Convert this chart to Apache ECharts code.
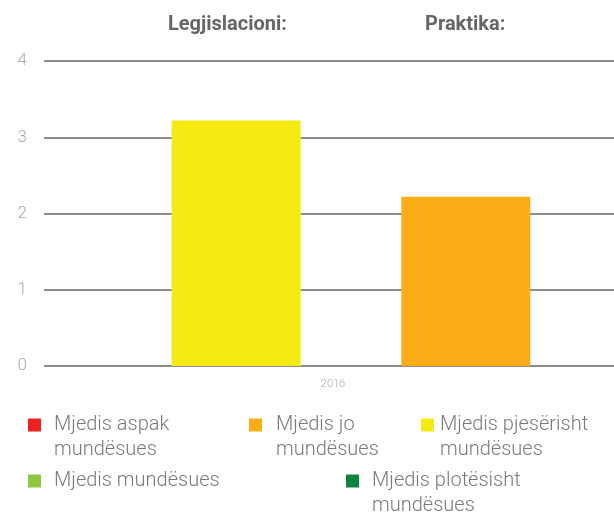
<!DOCTYPE html>
<html>
<head>
<meta charset="utf-8">
<script src="https://cdn.jsdelivr.net/npm/echarts@6/dist/echarts.min.js"></script>
<style>
  html, body { margin: 0; padding: 0; background: #fff; }
  #chart { width: 614px; height: 517px; }
</style>
</head>
<body>
<div id="chart"></div>
<script>
// data
const years = ['2016'];
const legislationValues = [3.22];
const practiceValues = [2.22];
const seriesTitles = ['Legjislacioni:', 'Praktika:'];
const legendNames = [
    'Mjedis aspak\nmundësues',
    'Mjedis jo\nmundësues',
    'Mjedis pjesërisht\nmundësues',
    'Mjedis mundësues',
    'Mjedis plotësisht\nmundësues'
];
const legendColors = ['#ed2024', '#fbad18', '#f6ea14', '#8dc63f', '#0b8441'];

(function(){
    const FONT = 'Roboto, "Noto Sans", sans-serif';

    // where each legend entry sits, and gap between icon and text
    const legendSlots = [
        { left: 28,  top: 387.5, gap: 13 },
        { left: 249, top: 387.5, gap: 14 },
        { left: 421, top: 387.5, gap: 6 },
        { left: 28,  top: 468.5, gap: 13 },
        { left: 346, top: 443.5, gap: 13 }
    ];

    let legends = legendNames.map((name, i) => {
        let slot = legendSlots[i];
        return {
            data: [name],
            left: slot.left,
            top: slot.top,
            padding: 0,
            icon: 'rect',
            itemWidth: 13,
            itemHeight: 13,
            selectedMode: false,
            // a blank first line keeps the icon level with the first real line
            formatter: function(n){
                return n.indexOf('\n') >= 0 ? '\n' + n : n;
            },
            textStyle: {
                fontFamily: FONT,
                fontSize: 20,
                fontWeight: 300,
                color: '#7a7a7a',
                lineHeight: 25,
                padding: [0, 0, 0, slot.gap - 5]
            }
        };
    });

    // empty series only there to feed the legend
    let legendSeries = legendNames.map((name, i) => ({
        name: name,
        type: 'line',
        data: [],
        itemStyle: { color: legendColors[i] },
        lineStyle: { color: legendColors[i] }
    }));

    let options = {
        animation: false,
        grid: {
            left: 44,
            width: 614,       // plot runs past the right edge, as in the original crop
            top: 61,
            bottom: 151,
            outerBoundsMode: 'none',
            containLabel: false
        },
        graphic: [
            {
                type: 'text',
                left: 168,
                top: 15,
                style: { text: seriesTitles[0], font: 'bold 20px ' + FONT, fill: '#666' }
            },
            {
                type: 'text',
                left: 425,
                top: 15,
                style: { text: seriesTitles[1], font: 'bold 20px ' + FONT, fill: '#666' }
            }
        ],
        legend: legends,
        xAxis: {
            type: 'category',
            data: years,
            axisLine: { show: false },
            axisTick: { show: false },
            axisLabel: {
                color: '#aaa',
                fontFamily: FONT,
                fontSize: 11,
                fontWeight: 300,
                margin: 13,
                padding: [0, 36, 0, 0]
            }
        },
        yAxis: {
            type: 'value',
            min: 0,
            max: 4,
            interval: 1,
            axisLine: { show: false },
            axisTick: { show: false },
            axisLabel: {
                color: '#aaa',
                fontFamily: FONT,
                fontSize: 17,
                fontWeight: 300,
                margin: 17
            },
            splitLine: {
                lineStyle: { color: '#8c8c8c', width: 2 }
            }
        },
        series: [
            {
                name: seriesTitles[0],
                type: 'bar',
                data: legislationValues,
                barWidth: 129,
                barGap: '78%',
                z: 3,
                itemStyle: { color: legendColors[2] }
            },
            {
                name: seriesTitles[1],
                type: 'bar',
                data: practiceValues,
                barWidth: 129,
                barGap: '78%',
                z: 3,
                itemStyle: { color: legendColors[1] }
            }
        ].concat(legendSeries)
    };

    let chart = echarts.init(document.getElementById('chart'), null, { renderer: 'canvas' });
    chart.setOption(options);
})();
</script>
</body>
</html>
